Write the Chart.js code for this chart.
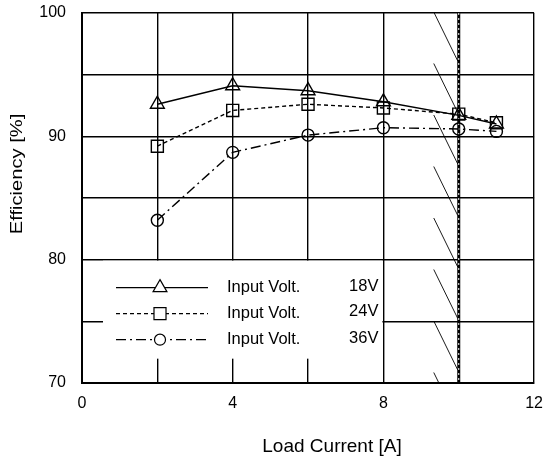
<!DOCTYPE html>
<html>
<head>
<meta charset="utf-8">
<script src="https://cdn.jsdelivr.net/npm/chart.js@4.4.0/dist/chart.umd.min.js"></script>
<style>
  html, body { margin: 0; padding: 0; background: #fff; }
  #wrap { width: 544px; height: 461px; }
</style>
</head>
<body>
<div id="wrap"><canvas id="effChart" width="544" height="461"></canvas></div>
<script>
// load current [A]
const loadCurrent = [2, 4, 6, 8, 10, 11];
// efficiency [%] per input voltage
const eff18V = [92.6, 94.1, 93.7, 92.8, 91.7, 91.0];
const eff24V = [89.2, 92.1, 92.6, 92.3, 91.8, 91.1];
const eff36V = [83.2, 88.7, 90.1, 90.7, 90.6, 90.4];
const seriesLabels = ['Input Volt.', 'Input Volt.', 'Input Volt.'];
const seriesVolts = ['18V', '24V', '36V'];
const xTickLabels = [0, 4, 8, 12];
const yTickLabels = [70, 80, 90, 100];
const xTitle = 'Load Current [A]';
const yTitle = 'Efficiency [%]';
const limitCurrent = 10;

const FONT = 'Liberation Sans, Arial, sans-serif';

function toPoints(ys) {
    return loadCurrent.map((x, i) => ({ x: x, y: ys[i] }));
}

function makeSet(ys, style, dash, radius) {
    return {
        data: toPoints(ys),
        borderColor: '#000',
        borderWidth: 1.4,
        borderDash: dash,
        pointStyle: style,
        pointRadius: radius,
        pointBorderWidth: 1.4,
        pointBorderColor: '#000',
        pointBackgroundColor: 'rgba(0,0,0,0)',
        fill: false,
        tension: 0
    };
}

// hatched limit area, inner legend, axis titles
const extras = {
    id: 'extras',
    beforeDatasetsDraw(chart) {
        const { ctx, chartArea: a, scales: { x, y } } = chart;
        ctx.save();
        // hatch left of the 10 A line
        ctx.beginPath();
        ctx.rect(a.left, a.top, a.right - a.left, a.bottom - a.top);
        ctx.clip();
        const xr = x.getPixelForValue(limitCurrent);
        ctx.strokeStyle = '#000';
        ctx.lineWidth = 0.9;
        for (let yy = a.top - 1; yy < a.bottom; yy += 51.5) {
            ctx.beginPath();
            ctx.moveTo(xr - 25, yy);
            ctx.lineTo(xr - 1, yy + 49);
            ctx.stroke();
        }
        // limit line
        ctx.lineWidth = 3;
        ctx.beginPath();
        ctx.moveTo(xr, a.top);
        ctx.lineTo(xr, a.bottom);
        ctx.stroke();
        ctx.strokeStyle = '#fff';
        ctx.lineWidth = 1;
        ctx.setLineDash([2, 3]);
        ctx.beginPath();
        ctx.moveTo(xr, a.top);
        ctx.lineTo(xr, a.bottom);
        ctx.stroke();
        ctx.setLineDash([]);

        // legend box
        const bl = a.left + 21;
        const bt = y.getPixelForValue(80) + 1;
        const br = x.getPixelForValue(8) - 1;
        const bb = bt + 98;
        ctx.fillStyle = '#fff';
        ctx.fillRect(bl, bt, br - bl, bb - bt);

        const sets = chart.data.datasets;
        ctx.font = '16.5px ' + FONT;
        ctx.textBaseline = 'middle';
        for (let i = 0; i < sets.length; i++) {
            const ds = sets[i];
            const ry = bt + 27 + i * 26;
            ctx.strokeStyle = '#000';
            ctx.lineWidth = 1.2;
            ctx.setLineDash(ds.borderDash);
            ctx.beginPath();
            ctx.moveTo(bl + 13, ry);
            ctx.lineTo(bl + 105, ry);
            ctx.stroke();
            ctx.setLineDash([]);
            ctx.fillStyle = '#fff';
            Chart.helpers.drawPoint(ctx, {
                pointStyle: ds.pointStyle,
                radius: ds.pointStyle === 'circle' ? 5.5 : ds.pointRadius,
                rotation: 0,
                borderWidth: 1.2
            }, bl + 57, ry);
            ctx.fillStyle = '#000';
            ctx.textAlign = 'left';
            ctx.fillText(seriesLabels[i], bl + 124, ry);
            ctx.textAlign = 'right';
            ctx.fillText(seriesVolts[i], br - 4, ry - (i === 1 ? 2 : 1));
        }
        ctx.restore();
    },
    afterDraw(chart) {
        const { ctx } = chart;
        ctx.save();
        ctx.fillStyle = '#000';
        ctx.textAlign = 'center';
        ctx.textBaseline = 'middle';
        // x title
        ctx.font = '19px ' + FONT;
        ctx.fillText(xTitle, 332, 447);
        // y title, a bit wider than its height like the original
        ctx.translate(17, 174);
        ctx.rotate(-Math.PI / 2);
        ctx.scale(1.22, 1);
        ctx.font = '16.5px ' + FONT;
        ctx.fillText(yTitle, 0, 0);
        ctx.restore();
    }
};

const ctx = document.getElementById('effChart').getContext('2d');
new Chart(ctx, {
    type: 'line',
    data: {
        datasets: [
            makeSet(eff18V, 'triangle', [], 8),
            makeSet(eff24V, 'rect', [4, 3], 8.5),
            makeSet(eff36V, 'circle', [10, 4, 2, 4], 6)
        ]
    },
    options: {
        responsive: false,
        animation: false,
        devicePixelRatio: 1,
        layout: { padding: { top: 13, right: 9, left: 0, bottom: 0 } },
        plugins: {
            legend: { display: false },
            tooltip: { enabled: false }
        },
        scales: {
            x: {
                type: 'linear',
                min: 0,
                max: 12,
                afterFit: (s) => {
                    s.height = 78;
                    s.paddingLeft = 0;
                    s.paddingRight = 0;
                },
                ticks: {
                    stepSize: 2,
                    color: '#000',
                    padding: 11,
                    maxRotation: 0,
                    font: { family: FONT, size: 16 },
                    callback: (v) => xTickLabels.includes(v) ? String(v) : ''
                },
                grid: { color: '#000', lineWidth: 1.4, drawTicks: false },
                border: { color: '#000', width: 2 },
                title: { display: false }
            },
            y: {
                type: 'linear',
                min: 70,
                max: 100,
                afterFit: (s) => {
                    s.width = 82;
                    s.paddingTop = 0;
                    s.paddingBottom = 0;
                },
                ticks: {
                    stepSize: 5,
                    color: '#000',
                    padding: 16,
                    font: { family: FONT, size: 16 },
                    callback: (v) => yTickLabels.includes(v) ? String(v) : ''
                },
                grid: { color: '#000', lineWidth: 1.4, drawTicks: false },
                border: { color: '#000', width: 2 },
                title: { display: false }
            }
        }
    },
    plugins: [extras]
});
</script>
</body>
</html>
